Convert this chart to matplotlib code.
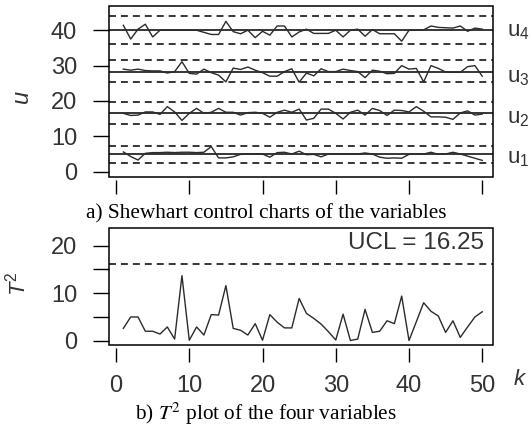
import matplotlib
matplotlib.use("Agg")
import numpy as np
import matplotlib.pyplot as plt
from matplotlib.patches import Rectangle

plt.rcParams['font.family'] = ['Liberation Sans', 'DejaVu Sans']
plt.rcParams['lines.scale_dashes'] = False
plt.rcParams['mathtext.fontset'] = 'custom'
plt.rcParams['mathtext.rm'] = 'Liberation Sans'
plt.rcParams['mathtext.it'] = 'Liberation Sans:italic'
plt.rcParams['mathtext.bf'] = 'Liberation Sans:bold'

# ---------------- data ----------------
k = np.arange(1, 51)

u1 = [5.6, 4.3, 3.3, 5.2, 5.4, 5.4, 5.5, 5.4, 5.5, 5.5,
      5.4, 5.5, 7.1, 3.9, 3.9, 4.2, 4.9, 5.0, 5.0, 5.0,
      4.1, 5.4, 5.5, 5.0, 5.8, 4.8, 4.9, 4.2, 5.0, 5.0,
      5.0, 5.0, 5.0, 5.3, 5.0, 4.1, 3.8, 3.9, 3.8, 4.9,
      5.0, 5.0, 5.5, 4.9, 5.0, 5.5, 5.0, 4.4, 3.8, 3.2]
u2 = [16.5, 15.9, 16.0, 16.9, 16.9, 16.2, 18.4, 16.9, 14.5, 16.5,
      17.9, 16.5, 16.8, 17.9, 16.8, 16.8, 16.0, 16.7, 16.8, 16.5,
      15.4, 16.8, 17.4, 16.8, 17.7, 14.6, 15.1, 17.7, 17.7, 16.5,
      14.9, 16.8, 17.4, 16.0, 17.9, 17.3, 15.9, 17.4, 17.3, 16.9,
      18.4, 17.1, 15.5, 15.5, 15.4, 14.8, 16.6, 17.2, 16.0, 16.3]
u3 = [29.0, 28.7, 29.0, 28.6, 28.5, 28.5, 27.9, 28.3, 31.1, 27.8,
      27.6, 29.0, 28.0, 27.3, 25.4, 29.3, 28.9, 29.6, 28.7, 28.0,
      27.0, 27.0, 28.3, 29.1, 25.3, 27.9, 27.1, 29.1, 28.3, 28.3,
      29.0, 28.6, 28.3, 26.6, 28.7, 28.4, 27.7, 27.8, 30.0, 29.0,
      29.2, 25.4, 30.0, 29.2, 28.2, 28.1, 28.1, 29.7, 30.0, 27.0]
u4 = [41.4, 37.5, 40.3, 41.7, 38.1, 40.0, 40.0, 40.0, 40.0, 40.0,
      40.0, 39.4, 38.8, 38.8, 42.5, 39.6, 39.0, 40.0, 37.9, 39.7,
      38.6, 41.2, 41.2, 38.1, 39.5, 40.3, 39.1, 39.1, 39.1, 40.0,
      38.1, 40.0, 40.3, 38.3, 40.2, 39.0, 39.0, 39.0, 36.9, 40.0,
      40.0, 40.1, 41.2, 40.8, 40.7, 40.6, 41.2, 39.7, 40.6, 40.3]
series = [u1, u2, u3, u4]
series_labels = [r'$\mathregular{u_1}$', r'$\mathregular{u_2}$',
                 r'$\mathregular{u_3}$', r'$\mathregular{u_4}$']
center = [5.0, 16.7, 28.3, 40.0]
lcl = [2.35, 13.6, 25.3, 36.0]
ucl = [7.3, 19.8, 31.45, 44.0]

t2 = [2.6, 5.0, 5.0, 2.0, 2.0, 1.4, 2.9, 0.35, 13.7, 0.1,
      2.9, 1.2, 5.5, 5.4, 11.6, 2.6, 2.2, 1.2, 3.6, 0.1,
      5.5, 3.9, 2.7, 2.7, 8.9, 5.75, 4.7, 3.5, 1.9, 0.15,
      5.6, 0.05, 0.35, 6.6, 1.75, 2.0, 4.2, 3.6, 9.4, 0.05,
      4.0, 8.0, 6.2, 5.2, 1.75, 4.2, 0.7, 2.9, 5.0, 6.1]
t2_ucl = 16.25

xticks = [0, 10, 20, 30, 40, 50]
u_yticks = [0, 10, 20, 30, 40]
t2_yticks = [0, 5, 10, 15, 20]
t2_yticklabels = ['0', '', '10', '', '20']

caption_a = 'a) Shewhart control charts of the variables'
caption_b = r'b) $T^2$ plot of the four variables'

# ---------------- layout ----------------
W, H = 530, 426
fig = plt.figure(figsize=(W / 100, H / 100), dpi=100)


def fx(px):
    return px / W


def fy(py):
    return 1 - py / H


L, R = 109, 492.5
ax1 = fig.add_axes([fx(L), fy(177), (R - L) / W, (177 - 6) / H])
ax2 = fig.add_axes([fx(L), fy(345), (R - L) / W, (345 - 227.7) / H])

line_col = '#2b2b2b'
dash = (0, (5.0, 3.6))

for ax in (ax1, ax2):
    for s in ax.spines.values():
        s.set_color('none')
    ax.spines['bottom'].set_position(('outward', 2.2))
    ax.add_patch(Rectangle((0, 0), 1, 1, transform=ax.transAxes, fill=False,
                           lw=1.1, edgecolor='black', clip_on=False, zorder=6))
    ax.set_xlim(-0.96, 51.4)
    ax.set_xticks(xticks)
    ax.tick_params(axis='x', direction='out', length=10, width=1.0, pad=9.5,
                   labelsize=17, colors='black', top=False)
    ax.tick_params(axis='y', direction='out', length=11.5, width=1.0, pad=11.5,
                   labelsize=17, colors='black', right=False)
    for lab in ax.get_xticklabels() + ax.get_yticklabels():
        lab.set_color('#333333')

# top panel
for vals, c, lo, hi in zip(series, center, lcl, ucl):
    ax1.axhline(c, color='black', lw=1.1, zorder=2)
    ax1.axhline(lo, color='black', lw=1.1, linestyle=dash, zorder=2)
    ax1.axhline(hi, color='black', lw=1.1, linestyle=dash, zorder=2)
    ax1.plot(k, vals, color=line_col, lw=1.0, zorder=3)
ax1.set_ylim(-1.5, 46.85)
ax1.set_yticks(u_yticks)
ax1.set_xticklabels([])

label_base_px = [163, 123, 82, 36]
for lab, yb in zip(series_labels, label_base_px):
    fig.text(fx(507), fy(yb), lab, fontsize=16, color='#333333',
             ha='left', va='baseline')

fig.text(fx(21.5), fy(96.5), 'u', fontsize=17, style='italic', rotation=90,
         ha='center', va='center', color='#333333')

# bottom panel
ax2.plot(k, t2, color=line_col, lw=1.0, zorder=3)
ax2.axhline(t2_ucl, color='black', lw=1.1, linestyle=dash, zorder=2)
ax2.set_ylim(-0.9, 23.8)
ax2.set_yticks(t2_yticks)
ax2.set_yticklabels(t2_yticklabels)
ax2.text(fx(484), fy(249), 'UCL = %.2f' % t2_ucl, transform=fig.transFigure,
         fontsize=17.5, ha='right', va='baseline', color='#333333')

fig.text(fx(17.5), fy(284), r'$T^2$', fontsize=16, rotation=90,
         ha='center', va='center', color='#333333')
fig.text(fx(514), fy(385), 'k', fontsize=16, style='italic',
         ha='left', va='baseline', color='#333333')

# captions
fig.text(fx(266), fy(218), caption_a, family='Liberation Serif', fontsize=15.3,
         ha='center', va='baseline', color='black')
fig.text(fx(266), fy(420.0), caption_b, family='Liberation Serif', fontsize=15.3,
         math_fontfamily='stix', ha='center', va='baseline', color='black')

fig.savefig('out.png', dpi=100)
